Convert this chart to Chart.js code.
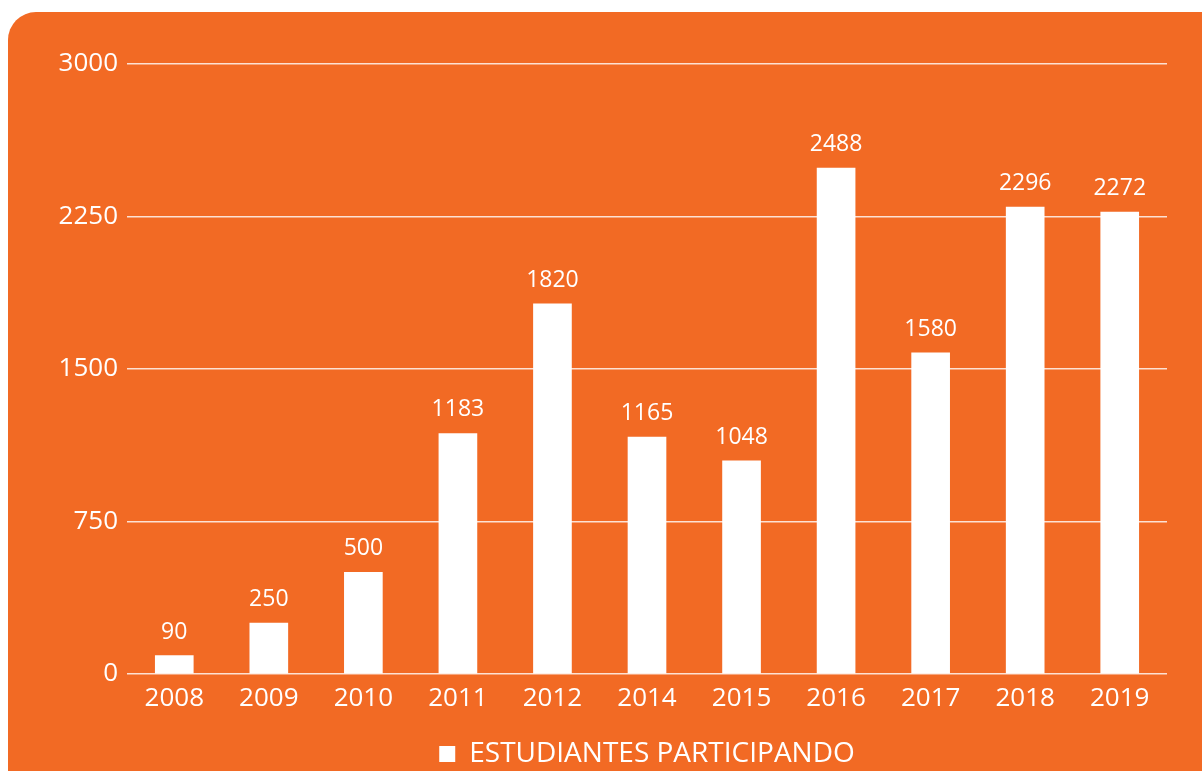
<!DOCTYPE html>
<html>
<head>
<meta charset="utf-8">
<script src="https://cdn.jsdelivr.net/npm/chart.js@4/dist/chart.umd.min.js"></script>
<style>
    body { margin: 0; background: #fff; overflow: hidden; }
    #panel {
        position: absolute; left: 8px; top: 12px;
        width: 1230px; height: 800px;
        background: #f26a24; border-radius: 28px;
    }
    #chart { position: absolute; left: 0; top: 0; }
</style>
</head>
<body>
<div id="panel"></div>
<canvas id="chart" width="1202" height="800"></canvas>
<script>
const years = ['2008', '2009', '2010', '2011', '2012', '2014', '2015', '2016', '2017', '2018', '2019'];
const students = [90, 250, 500, 1183, 1820, 1165, 1048, 2488, 1580, 2296, 2272];
const seriesName = 'ESTUDIANTES PARTICIPANDO';
const yTicks = [0, 750, 1500, 2250, 3000];

// numbers over the bars
const valueLabels = {
    id: 'valueLabels',
    afterDatasetsDraw(chart) {
        const ctx = chart.ctx;
        const meta = chart.getDatasetMeta(0);
        ctx.save();
        ctx.font = '23px "Open Sans"';
        ctx.fillStyle = '#fff';
        ctx.textAlign = 'center';
        ctx.textBaseline = 'alphabetic';
        meta.data.forEach((bar, i) => {
            ctx.fillText(String(students[i]), bar.x, bar.y - 17);
        });
        ctx.restore();
    }
};

const data = {
    labels: years,
    datasets: [{
        label: seriesName,
        data: students,
        backgroundColor: '#ffffff',
        borderWidth: 0,
        barThickness: 38
    }]
};

const config = {
    type: 'bar',
    data: data,
    options: {
        responsive: false,
        animation: false,
        layout: {
            padding: { top: 64, right: 35, bottom: 22, left: 0 }
        },
        scales: {
            x: {
                grid: { display: false },
                border: { display: false },
                ticks: {
                    color: '#fff',
                    padding: 1,
                    font: { family: 'Open Sans', size: 26 }
                },
                afterFit(scale) { scale.height = 62; }
            },
            y: {
                min: 0,
                max: 3000,
                afterBuildTicks(scale) {
                    scale.ticks = yTicks.map(v => ({ value: v }));
                },
                grid: {
                    color: 'rgba(255, 255, 255, 0.8)',
                    lineWidth: 1.5,
                    drawTicks: false
                },
                border: { display: false },
                ticks: {
                    color: '#fff',
                    padding: 9,
                    font: { family: 'Open Sans', size: 26 },
                    callback: (value) => String(value)
                },
                afterFit(scale) { scale.width = 127; }
            }
        },
        plugins: {
            legend: {
                position: 'bottom',
                fullSize: false,
                labels: {
                    color: '#fff',
                    boxWidth: 16,
                    boxHeight: 16,
                    padding: 4,
                    font: { family: 'Open Sans', size: 28 }
                }
            },
            tooltip: { enabled: false }
        }
    },
    plugins: [valueLabels]
};

const myChart = new Chart(
    document.getElementById('chart'),
    config
);
</script>
</body>
</html>
